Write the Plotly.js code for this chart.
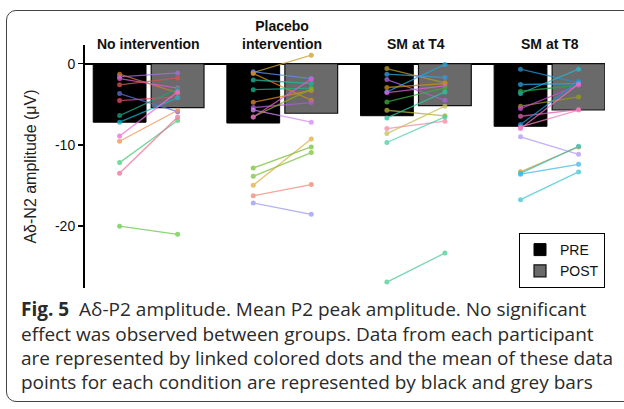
<!DOCTYPE html>
<html>
<head>
<meta charset="utf-8">
<script src="https://cdn.plot.ly/plotly-3.0.1.min.js"></script>
<style>
  html, body { margin: 0; padding: 0; background: #fff; }
  #wrap { position: relative; width: 624px; height: 409px; overflow: hidden; }
  #frame { position: absolute; left: 6px; top: 10px; width: 640px; height: 392px;
           border: 1px solid #444; border-radius: 10px; box-sizing: border-box; }
  #chart { position: absolute; left: 0; top: 0; width: 624px; height: 409px; }
</style>
</head>
<body>
<div id="wrap">
  <div id="frame"></div>
  <div id="chart"></div>
</div>
<script>
// ---- data ----
const groups = ["No intervention", "Placebo<br>intervention", "SM at T4", "SM at T8"];
const preMeans  = [-7.2, -7.3, -6.4, -7.7];
const postMeans = [-5.4, -6.1, -5.15, -5.7];

const g1Pre  = [-1.62, -1.29, -1.83, -2.6, -3.67, -4.54, -6.38, -7.2, -8.89, -9.54, -12.17, -13.49, -20.0];
const g1Post = [-1.13, -3.6, -3.0, -1.75, -5.9, -4.09, -3.1, -4.2, -3.47, -5.73, -7.0, -6.55, -20.99];

const g2Pre  = [-1.1, -1.0, -1.2, -2.0, -3.2, -4.75, -5.4, -5.7, -6.55, -6.55, -14.96, -12.83, -13.85, -16.24, -17.14];
const g2Post = [1.05, -1.83, -4.5, -2.44, -3.0, -3.3, -4.78, -7.2, -3.1, -1.9, -9.26, -10.24, -10.94, -14.88, -18.53];

const g3Pre  = [-0.6, -1.29, -1.95, -3.47, -2.93, -3.55, -4.7, -5.73, -6.67, -7.98, -8.6, -9.7, -26.87];
const g3Post = [-2.36, -1.7, -4.5, -0.1, -2.44, -2.73, -2.98, -6.42, -3.47, -7.08, -5.23, -6.55, -23.3];

const g4Pre  = [-0.68, -3.67, -2.56, -3.39, -5.23, -5.52, -6.47, -7.49, -7.98, -7.78, -9.0, -13.3, -13.5, -13.6, -16.73];
const g4Post = [-2.36, -0.68, -2.44, -2.65, -4.09, -2.65, -5.64, -2.2, -2.5, -5.7, -11.15, -10.24, -10.16, -12.38, -13.32];

const seriesNames = ["PRE", "POST"];
const captionLines = [
  "<b>Fig. 5</b>  Aδ-P2 amplitude. Mean P2 peak amplitude. No significant",
  "effect was observed between groups. Data from each participant",
  "are represented by linked colored dots and the mean of these data",
  "points for each condition are represented by black and grey bars"
];

// ---- styles ----
const g1Colors = ["#a66ee0","#d27a3a","#d55fd5","#d9534f","#5a6fd6","#e0506a","#1aa37a","#12b5cb","#f06be0","#f0965a","#4fcf7e","#f5709a","#6ccc4c"];
const g2Colors = ["#c9a22e","#5b8ff0","#d98b1a","#1fb59a","#10b58a","#d88a2a","#b05ad8","#d38cf5","#8fa81a","#e45ad0","#e2b040","#7cc33c","#82c346","#f48a7a","#9b9cf5"];
const g3Colors = ["#b89a1e","#3a9ad9","#b060e0","#1fa9e0","#c98a10","#e060d8","#3aaf3a","#b5b035","#2ec4a0","#f58aa5","#c5c45a","#4fcfa8","#4fcf9a"];
const g4Colors = ["#2a8fcf","#2ab8c8","#2a9fe0","#22a84a","#9a9a1a","#d04ad8","#e060b0","#1a9ae0","#f070c8","#f580c0","#b49af5","#c8a030","#3ac0c8","#48b8e8","#48c8d0"];

const OFF = 0.217, BW = 0.395;
const gx = groups.map((_, i) => i);

const traces = [];
traces.push({
  type: "bar", name: seriesNames[0], x: gx.map(v => v - OFF), y: preMeans, width: BW,
  marker: {color: "#000000", line: {color: "#000000", width: 1}}, hoverinfo: "skip"
});
traces.push({
  type: "bar", name: seriesNames[1], x: gx.map(v => v + OFF), y: postMeans, width: BW,
  marker: {color: "#6a6a6a", line: {color: "#111111", width: 1.2}}, hoverinfo: "skip"
});

const allPre = [g1Pre, g2Pre, g3Pre, g4Pre];
const allPost = [g1Post, g2Post, g3Post, g4Post];
const allColors = [g1Colors, g2Colors, g3Colors, g4Colors];
allPre.forEach((pre, gi) => {
  pre.forEach((v, k) => {
    traces.push({
      type: "scatter", mode: "lines+markers", showlegend: false, hoverinfo: "skip",
      x: [gi - OFF, gi + OFF], y: [v, allPost[gi][k]],
      line: {color: allColors[gi][k], width: 1.3},
      marker: {color: allColors[gi][k], size: 5},
      opacity: 0.78
    });
  });
});

const annotations = groups.map((g, i) => ({
  x: i, y: 1.25, xref: "x", yref: "y", text: "<b>" + g + "</b>", showarrow: false,
  xanchor: "center", yanchor: "bottom",
  font: {family: "Liberation Sans, Arial, sans-serif", size: 14, color: "#111"}
}));

const capY = [309, 334, 358, 382];
captionLines.forEach((t, i) => {
  annotations.push({
    x: 19, y: capY[i], xref: "paper", yref: "paper", text: t, showarrow: false,
    xanchor: "left", yanchor: "middle", align: "left",
    font: {family: "Open Sans, Noto Sans, sans-serif", size: 19, color: "#2a2a2a"}
  });
});

// convert pixel positions for caption into paper coords
const M = {l: 85, r: 19, t: 45, b: 121};
const PW = 624 - M.l - M.r, PH = 409 - M.t - M.b;
annotations.forEach(a => {
  if (a.xref === "paper") {
    a.x = (a.x - M.l) / PW;
    a.y = (409 - M.b - a.y) / PH;
  }
});

const layout = {
  width: 624, height: 409,
  margin: M,
  paper_bgcolor: "rgba(0,0,0,0)",
  plot_bgcolor: "rgba(0,0,0,0)",
  showlegend: true,
  barmode: "overlay",
  xaxis: {range: [-0.476, 3.415], visible: false, fixedrange: true},
  yaxis: {
    range: [-27.6, 2.3], tickvals: [0, -10, -20], ticktext: ["0", "-10", "-20"],
    showline: true, linecolor: "#000", linewidth: 2, ticks: "outside", ticklen: 5, tickwidth: 1.5,
    tickcolor: "#000", showgrid: false, zeroline: true, zerolinecolor: "#000", zerolinewidth: 2,
    tickfont: {family: "Liberation Sans, Arial, sans-serif", size: 14, color: "#111"},
    title: {text: "Aδ-N2 amplitude (μV)", standoff: 14,
            font: {family: "Liberation Sans, Arial, sans-serif", size: 16, color: "#222"}}
  },
  legend: {
    x: 1, y: 0, xanchor: "right", yanchor: "bottom",
    bordercolor: "#000", borderwidth: 1, bgcolor: "#fff",
    font: {family: "Liberation Sans, Arial, sans-serif", size: 14, color: "#111"},
    traceorder: "normal", itemclick: false, itemwidth: 30, tracegroupgap: 4
  },
  annotations: annotations
};

Plotly.newPlot("chart", traces, layout, {displayModeBar: false, staticPlot: true});
</script>
</body>
</html>
